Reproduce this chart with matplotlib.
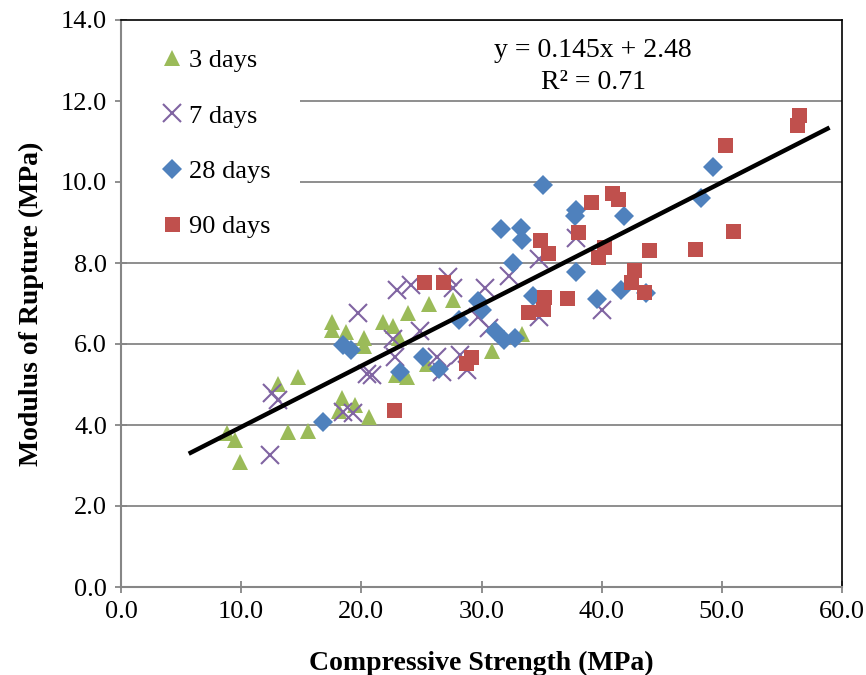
import numpy as np
import matplotlib
matplotlib.use("Agg")
import matplotlib.pyplot as plt
from matplotlib.patches import Rectangle

plt.rcParams['font.family'] = ['Liberation Serif', 'DejaVu Serif']

# ---- data (Compressive Strength MPa, Modulus of Rupture MPa) ----
d3_x = [8.8, 9.5, 9.9, 13.1, 14.7, 13.9, 15.6, 17.6, 17.6, 18.7, 18.4, 18.1, 19.5,
        20.2, 20.2, 20.6, 21.8, 22.6, 23.1, 23.9, 22.9, 23.8, 25.6, 27.6, 25.5, 30.9, 33.4]
d3_y = [3.80, 3.63, 3.09, 5.02, 5.18, 3.83, 3.85, 6.54, 6.35, 6.30, 4.67, 4.35, 4.50,
        6.15, 5.95, 4.20, 6.54, 6.45, 6.15, 6.76, 5.23, 5.18, 7.00, 7.09, 5.50, 5.82, 6.25]

d7_x = [12.4, 12.6, 13.1, 18.5, 19.3, 19.7, 20.5, 20.9, 22.6, 22.8, 23.0, 24.1, 24.9,
        26.3, 26.75, 27.2, 27.6, 28.25, 28.8, 29.7, 30.3, 30.6, 32.3, 34.75, 34.75, 37.9, 40.0]
d7_y = [3.26, 4.79, 4.62, 4.32, 4.30, 6.77, 5.25, 5.23, 6.12, 5.68, 7.33, 7.45, 6.32,
        5.68, 5.31, 7.65, 7.38, 5.73, 5.36, 6.67, 7.38, 6.40, 7.68, 8.10, 6.67, 8.62, 6.84]

d28_x = [16.8, 18.5, 19.1, 23.25, 25.1, 26.5, 28.1, 29.75, 30.0, 31.1, 31.9, 32.8, 32.6,
         31.6, 33.25, 33.4, 35.1, 34.3, 37.9, 37.8, 37.9, 39.6, 41.6, 41.9, 43.7, 48.25, 49.25]
d28_y = [4.07, 5.98, 5.85, 5.31, 5.68, 5.38, 6.59, 7.07, 6.84, 6.33, 6.10, 6.15, 8.01,
         8.84, 8.86, 8.57, 9.93, 7.18, 9.31, 9.16, 7.78, 7.10, 7.33, 9.15, 7.27, 9.60, 10.37]

d90_x = [22.7, 25.2, 26.8, 28.7, 29.1, 33.85, 35.1, 35.2, 37.1, 34.9, 35.5, 38.0, 39.1,
         40.9, 41.4, 39.7, 40.2, 42.4, 42.7, 43.5, 43.9, 47.75, 50.25, 50.9, 56.25, 56.4]
d90_y = [4.37, 7.53, 7.53, 5.53, 5.68, 6.79, 6.87, 7.16, 7.14, 8.57, 8.25, 8.77, 9.51,
         9.73, 9.58, 8.14, 8.40, 7.53, 7.83, 7.28, 8.32, 8.35, 10.91, 8.79, 11.41, 11.65]

# trend line as drawn in the picture, and the equation as printed
line_slope = 0.151
line_intercept = 2.44
line_range = [5.8, 58.8]
eq_text = "y = 0.145x + 2.48"
r2_text = "R\u00b2 = 0.71"

x_ticks = [0, 10, 20, 30, 40, 50, 60]
y_ticks = [0, 2, 4, 6, 8, 10, 12, 14]

# ---- figure ----
fig = plt.figure(figsize=(8.66, 6.75), dpi=100)
ax = fig.add_axes([121/866, 1-587/675, (842-121)/866, (587-20)/675])

gray = '#868686'
ax.set_xlim(0, 60)
ax.set_ylim(0, 14)
ax.set_xticks(x_ticks)
ax.set_yticks(y_ticks)
ax.set_xticklabels([f"{v:.1f}" for v in x_ticks])
ax.set_yticklabels([f"{v:.1f}" for v in y_ticks])
ax.grid(axis='y', color=gray, linewidth=1.3, zorder=0.5)
ax.set_axisbelow(True)

for s in ['top', 'right']:
    ax.spines[s].set_color('black')
    ax.spines[s].set_linewidth(1.2)
for s in ['left', 'bottom']:
    ax.spines[s].set_color(gray)
    ax.spines[s].set_linewidth(1.5)
ax.tick_params(direction='inout', length=8, width=1.3, color=gray,
               labelsize=19, pad=6)

# white legend background block (covers gridlines behind legend)
ax.add_patch(Rectangle((0, 0.603), 0.248, 0.397, transform=ax.transAxes,
                       facecolor='white', edgecolor='none', zorder=1))

ax.plot(d3_x, d3_y, linestyle='none', marker='^', ms=11, color='#9BBB59',
        markeredgewidth=0, label='3 days', zorder=2)
ax.plot(d7_x, d7_y, linestyle='none', marker='x', ms=12.5, color='#8064A2',
        markeredgewidth=1.5, label='7 days', zorder=2)
ax.plot(d28_x, d28_y, linestyle='none', marker='D', ms=10, color='#4F81BD',
        markeredgewidth=0, label='28 days', zorder=2)
ax.plot(d90_x, d90_y, linestyle='none', marker='s', ms=10.8, color='#C0504D',
        markeredgewidth=0, label='90 days', zorder=2)

tx = np.array(line_range)
ax.plot(tx, line_slope*tx + line_intercept, color='black', linewidth=3.2, zorder=3)

leg = ax.legend(loc='upper left', bbox_to_anchor=(0.014, 1.0), frameon=False,
                fontsize=19, handlelength=0.9, handletextpad=0.2,
                labelspacing=1.2, borderpad=0.6, borderaxespad=0.5)

ax.text(0.655, 0.968, eq_text + "\n" + r2_text,
        transform=ax.transAxes, ha='center', va='top', fontsize=20,
        linespacing=1.35)

ax.set_xlabel('Compressive Strength (MPa)', fontsize=20, fontweight='bold', labelpad=20)
ax.set_ylabel('Modulus of Rupture (MPa)', fontsize=20, fontweight='bold', labelpad=12)

fig.savefig('out.png', dpi=100)
